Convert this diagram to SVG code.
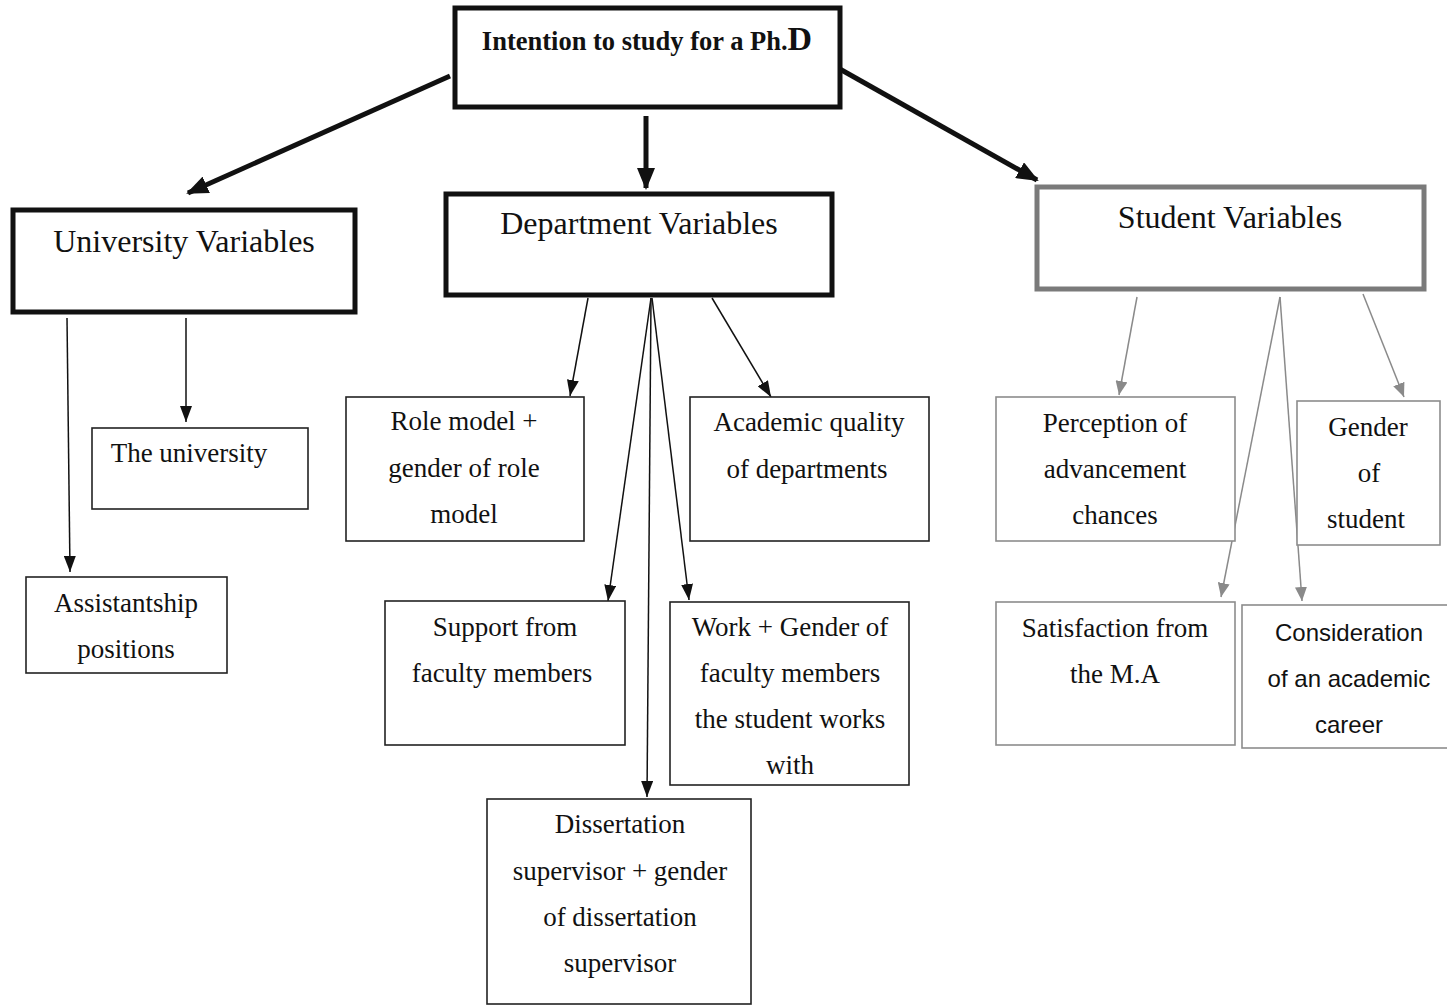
<svg xmlns="http://www.w3.org/2000/svg" width="1447" height="1006" viewBox="0 0 1447 1006">
  <style>
    text { font-family: "Liberation Serif", "Times New Roman", serif; fill: #111; text-anchor: middle; }
    .t { font-size: 27px; }
    .s { font-family: "Liberation Sans", Arial, sans-serif; font-size: 24px; }
    .h { font-size: 32px; }
    .top { font-size: 26.5px; font-weight: bold; }
    .big { fill: #fff; stroke: #111; stroke-width: 5; }
    .bigg { fill: #fff; stroke: #7a7a7a; stroke-width: 5; }
    .box { fill: #fff; stroke: #222; stroke-width: 1.6; }
    .boxg { fill: #fff; stroke: #8c8c8c; stroke-width: 1.6; }
    .thick { stroke: #111; stroke-width: 5; fill: none; }
    .thin { stroke: #111; stroke-width: 1.5; fill: none; }
    .thing { stroke: #8a8a8a; stroke-width: 1.5; fill: none; }
  </style>
  <defs>
    <marker id="ahThick" markerUnits="userSpaceOnUse" viewBox="0 0 22 18" refX="20" refY="9" markerWidth="22" markerHeight="18" orient="auto">
      <path d="M0,0 L22,9 L0,18 Z" fill="#111"/>
    </marker>
    <marker id="ahThin" markerUnits="userSpaceOnUse" viewBox="0 0 16 12" refX="16" refY="6" markerWidth="16" markerHeight="12" orient="auto">
      <path d="M0,0 L16,6 L0,12 Z" fill="#111"/>
    </marker>
    <marker id="ahGrey" markerUnits="userSpaceOnUse" viewBox="0 0 14 12" refX="14" refY="6" markerWidth="14" markerHeight="12" orient="auto">
      <path d="M0,0 L14,6 L0,12 Z" fill="#8a8a8a"/>
    </marker>
  </defs>

  <!-- connectors -->
  <g id="connectors">
    <line class="thick" x1="450" y1="76" x2="188" y2="193" marker-end="url(#ahThick)"/>
    <line class="thick" x1="646" y1="116" x2="646" y2="188" marker-end="url(#ahThick)"/>
    <line class="thick" x1="838" y1="68" x2="1037" y2="180" marker-end="url(#ahThick)"/>

    <line class="thin" x1="67" y1="318" x2="70" y2="572" marker-end="url(#ahThin)"/>
    <line class="thin" x1="186" y1="318" x2="186" y2="422" marker-end="url(#ahThin)"/>

    <line class="thin" x1="588" y1="298" x2="570" y2="396" marker-end="url(#ahThin)"/>
    <line class="thin" x1="651" y1="298" x2="608" y2="601" marker-end="url(#ahThin)"/>
    <line class="thin" x1="651" y1="298" x2="647" y2="797" marker-end="url(#ahThin)"/>
    <line class="thin" x1="652" y1="298" x2="689" y2="600" marker-end="url(#ahThin)"/>
    <line class="thin" x1="712" y1="298" x2="771" y2="397" marker-end="url(#ahThin)"/>

    <line class="thing" x1="1137" y1="297" x2="1119" y2="395" marker-end="url(#ahGrey)"/>
    <line class="thing" x1="1280" y1="297" x2="1221" y2="597" marker-end="url(#ahGrey)"/>
    <line class="thing" x1="1280" y1="297" x2="1302" y2="601" marker-end="url(#ahGrey)"/>
    <line class="thing" x1="1363" y1="294" x2="1404" y2="397" marker-end="url(#ahGrey)"/>
  </g>

  <!-- top node -->
  <g id="intention">
    <rect class="big" x="455" y="8" width="385" height="99"/>
    <text class="top" x="647" y="50">Intention to study for a Ph.<tspan font-size="34">D</tspan></text>
  </g>

  <!-- category nodes -->
  <g id="university-variables">
    <rect class="big" x="13" y="210" width="342" height="102"/>
    <text class="h" x="184" y="252">University Variables</text>
  </g>
  <g id="department-variables">
    <rect class="big" x="446" y="194" width="386" height="101"/>
    <text class="h" x="639" y="234">Department Variables</text>
  </g>
  <g id="student-variables">
    <rect class="bigg" x="1037" y="187" width="387" height="102"/>
    <text class="h" x="1230" y="228">Student Variables</text>
  </g>

  <!-- university variables -->
  <g id="the-university">
    <rect class="box" x="92" y="428" width="216" height="81"/>
    <text class="t" x="189" y="462">The university</text>
  </g>
  <g id="assistantship">
    <rect class="box" x="26" y="577" width="201" height="96"/>
    <text class="t" x="126" y="612">Assistantship</text>
    <text class="t" x="126" y="658">positions</text>
  </g>

  <!-- department variables -->
  <g id="role-model">
    <rect class="box" x="346" y="397" width="238" height="144"/>
    <text class="t" x="464" y="430">Role model +</text>
    <text class="t" x="464" y="477">gender of role</text>
    <text class="t" x="464" y="523">model</text>
  </g>
  <g id="academic-quality">
    <rect class="box" x="690" y="397" width="239" height="144"/>
    <text class="t" x="809" y="431">Academic quality</text>
    <text class="t" x="807" y="478">of departments</text>
  </g>
  <g id="support">
    <rect class="box" x="385" y="601" width="240" height="144"/>
    <text class="t" x="505" y="636">Support from</text>
    <text class="t" x="502" y="682">faculty members</text>
  </g>
  <g id="work-gender">
    <rect class="box" x="670" y="602" width="239" height="183"/>
    <text class="t" x="790" y="636">Work + Gender of</text>
    <text class="t" x="790" y="682">faculty members</text>
    <text class="t" x="790" y="728">the student works</text>
    <text class="t" x="790" y="774">with</text>
  </g>
  <g id="dissertation">
    <rect class="box" x="487" y="799" width="264" height="205"/>
    <text class="t" x="620" y="833">Dissertation</text>
    <text class="t" x="620" y="880">supervisor + gender</text>
    <text class="t" x="620" y="926">of dissertation</text>
    <text class="t" x="620" y="972">supervisor</text>
  </g>

  <!-- student variables -->
  <g id="perception">
    <rect class="boxg" x="996" y="397" width="239" height="144"/>
    <text class="t" x="1115" y="432">Perception of</text>
    <text class="t" x="1115" y="478">advancement</text>
    <text class="t" x="1115" y="524">chances</text>
  </g>
  <g id="gender-student">
    <rect class="boxg" x="1297" y="401" width="143" height="144"/>
    <text class="t" x="1368" y="436">Gender</text>
    <text class="t" x="1369" y="482">of</text>
    <text class="t" x="1366" y="528">student</text>
  </g>
  <g id="satisfaction">
    <rect class="boxg" x="996" y="602" width="239" height="143"/>
    <text class="t" x="1115" y="637">Satisfaction from</text>
    <text class="t" x="1115" y="683">the M.A</text>
  </g>
  <g id="consideration">
    <rect class="boxg" x="1242" y="605" width="210" height="143"/>
    <text class="s" x="1349" y="641">Consideration</text>
    <text class="s" x="1349" y="687">of an academic</text>
    <text class="s" x="1349" y="733">career</text>
  </g>
</svg>
